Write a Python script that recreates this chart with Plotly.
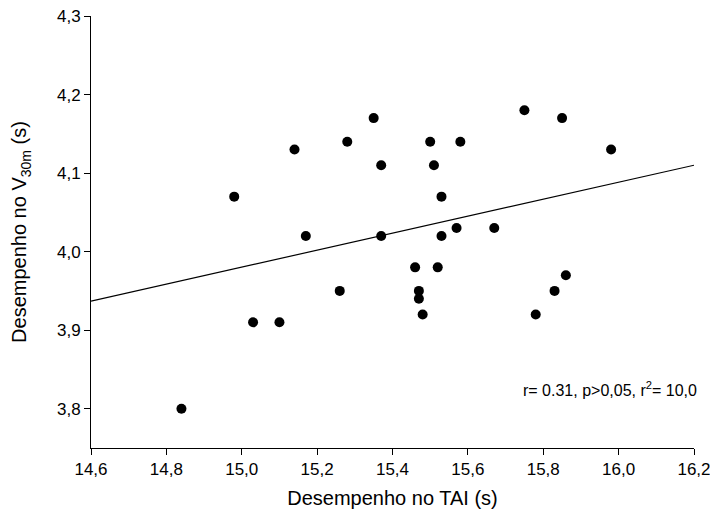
import plotly.graph_objects as go

tai = [14.84, 14.98, 15.03, 15.10, 15.14, 15.17, 15.26, 15.28, 15.35, 15.37,
       15.37, 15.46, 15.47, 15.47, 15.48, 15.50, 15.51, 15.52, 15.53, 15.53,
       15.57, 15.58, 15.67, 15.75, 15.78, 15.83, 15.85, 15.86, 15.98]
v30 = [3.80, 4.07, 3.91, 3.91, 4.13, 4.02, 3.95, 4.14, 4.17, 4.11,
       4.02, 3.98, 3.95, 3.94, 3.92, 4.14, 4.11, 3.98, 4.07, 4.02,
       4.03, 4.14, 4.03, 4.18, 3.92, 3.95, 4.17, 3.97, 4.13]
fit_x = [14.6, 16.2]
fit_y = [3.937, 4.110]

fig = go.Figure()
fig.add_trace(go.Scatter(x=fit_x, y=fit_y, mode="lines",
                         line=dict(color="black", width=1.2), hoverinfo="skip"))
fig.add_trace(go.Scatter(x=tai, y=v30, mode="markers",
                         marker=dict(color="black", size=10)))

fig.add_annotation(x=1.0, xref="paper", xanchor="right", xshift=5,
                   y=3.825, yref="y", yanchor="middle",
                   text="r= 0.31, p>0,05, r<sup>2</sup>= 10,0", showarrow=False,
                   font=dict(size=16, color="black"))

fig.update_layout(
    width=710, height=519,
    margin=dict(l=91, r=16, t=16, b=71),
    plot_bgcolor="white", paper_bgcolor="white",
    showlegend=False,
    separators=",.",
    font=dict(family="Liberation Sans, Arial, sans-serif", color="black", size=17),
    xaxis=dict(range=[14.6, 16.2], tick0=14.6, dtick=0.2, tickformat=".1f",
               automargin=False, ticklabeloverflow="allow",
               showgrid=False, zeroline=False, showline=True, linecolor="black",
               linewidth=1, ticks="outside", ticklen=6, tickcolor="black",
               title=dict(text="Desempenho no TAI (s)", font=dict(size=20), standoff=12)),
    yaxis=dict(range=[3.75, 4.3], tick0=3.8, dtick=0.1, tickformat=".1f",
               automargin=False, ticklabeloverflow="allow",
               showgrid=False, zeroline=False, showline=True, linecolor="black",
               linewidth=1, ticks="outside", ticklen=6, tickcolor="black",
               title=dict(text="Desempenho no V<sub>30m</sub> (s)", font=dict(size=20), standoff=24)),
)
fig.write_html("out.html", config={"displayModeBar": False},
               post_script="document.body.style.margin='0px';")
